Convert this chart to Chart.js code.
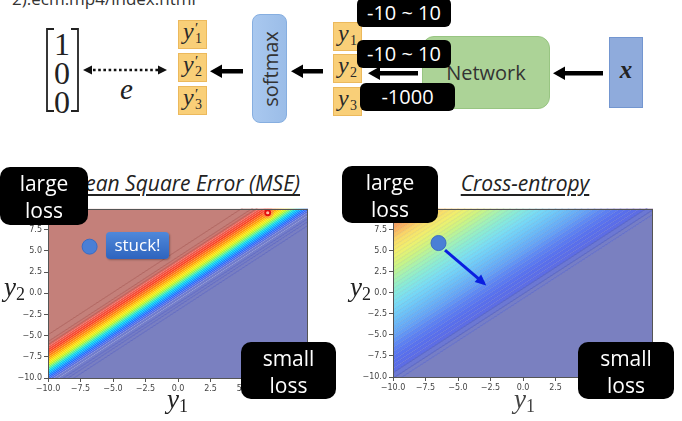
<!DOCTYPE html>
<html><head><meta charset="utf-8">
<script src="https://cdn.jsdelivr.net/npm/chart.js@4.4.1/dist/chart.umd.min.js"></script>
<style>
html,body{margin:0;padding:0;background:#fff;}
body{width:682px;height:421px;overflow:hidden;position:relative;font-family:"Open Sans",sans-serif;}
.abs{position:absolute;}
.ybox{position:absolute;background:#f9cf78;border:1px solid #ecb95c;box-sizing:border-box;width:29px;height:29px;z-index:2;}
.ybox .v{position:absolute;left:4px;top:-3px;font-family:"Liberation Serif",serif;font-style:italic;font-size:24px;color:#2a2a2a;}
.ybox .pr{position:absolute;left:16px;top:-1px;font-family:"Liberation Serif",serif;font-size:15px;color:#2a2a2a;}
.ybox .sb{position:absolute;left:16px;top:10px;font-family:"Liberation Serif",serif;font-size:14px;color:#2a2a2a;}
.blk{position:absolute;background:#000;color:#fff;border-radius:6px;text-align:center;font-size:20px;z-index:5;box-sizing:border-box;}
.big{position:absolute;background:#000;color:#fff;border-radius:10px;text-align:center;font-size:21px;line-height:27px;z-index:6;padding-top:3px;box-sizing:border-box;}
.mtx{position:absolute;font-family:"Liberation Serif",serif;font-size:32px;color:#222;line-height:29px;text-align:center;width:20px;}
.ttl{position:absolute;font-style:italic;font-size:21px;color:#222;text-decoration:underline;text-decoration-thickness:1.5px;text-underline-offset:3px;white-space:nowrap;z-index:3;line-height:26px;}
.axl{position:absolute;font-family:"Liberation Serif",serif;color:#222;z-index:4;white-space:nowrap;}
.axl i{font-size:27px;}
.axl sub{font-size:18px;vertical-align:-4px;}
canvas{position:absolute;z-index:1;}
</style></head>
<body>
<div class="abs" style="left:12px;top:-13px;font-size:17px;color:#333;white-space:nowrap;">2).ecm.mp4/index.html</div>

<!-- target vector -->
<div class="mtx" style="left:52px;top:30px;">1<br>0<br>0</div>
<svg class="abs" width="682" height="130" style="left:0;top:0;z-index:3;">
  <path d="M54,29 H47 V111 H54" fill="none" stroke="#222" stroke-width="1.8"/>
  <path d="M71,29 H78 V111 H71" fill="none" stroke="#222" stroke-width="1.8"/>
  <line x1="93" y1="70" x2="158" y2="70" stroke="#111" stroke-width="2.6" stroke-dasharray="2.6 2.6"/>
  <polygon points="83,70 92,65.5 92,74.5" fill="#111"/>
  <polygon points="167,70 158,65.5 158,74.5" fill="#111"/>
  <rect x="221" y="69" width="22" height="4.5" fill="#000"/>
  <polygon points="210,71.2 222,64.5 222,78" fill="#000"/>
  <rect x="302" y="69" width="21" height="4.5" fill="#000"/>
  <polygon points="291,71.2 303,64.5 303,78" fill="#000"/>
  <rect x="379" y="71" width="39" height="4.5" fill="#000"/>
  <polygon points="368,73.2 380,66.5 380,80" fill="#000"/>
  <rect x="564" y="71" width="39" height="4.5" fill="#000"/>
  <polygon points="553,73.2 565,66.5 565,80" fill="#000"/>
</svg>
<div class="abs" style="left:120px;top:73px;font-family:'Liberation Serif',serif;font-style:italic;font-size:29px;color:#222;">e</div>

<div class="ybox" style="left:178px;top:20px;"><span class="v">y</span><span class="pr">′</span><span class="sb">1</span></div>
<div class="ybox" style="left:178px;top:53px;"><span class="v">y</span><span class="pr">′</span><span class="sb">2</span></div>
<div class="ybox" style="left:178px;top:86px;"><span class="v">y</span><span class="pr">′</span><span class="sb">3</span></div>

<div class="abs" style="left:252px;top:14px;width:35px;height:109px;border-radius:8px;background:linear-gradient(90deg,#a9c8ef,#9bbde8);border:1px solid #86aee0;box-sizing:border-box;z-index:2;">
  <div class="abs" style="left:50%;top:50%;transform:translate(-50%,-50%) rotate(-90deg);font-size:20px;color:#333;white-space:nowrap;">softmax</div>
</div>

<div class="ybox" style="left:333px;top:22px;"><span class="v">y</span><span class="sb">1</span></div>
<div class="ybox" style="left:333px;top:54px;"><span class="v">y</span><span class="sb">2</span></div>
<div class="ybox" style="left:333px;top:87px;"><span class="v">y</span><span class="sb">3</span></div>

<div class="abs" style="left:422px;top:36px;width:128px;height:73px;border-radius:12px;background:#acd397;border:1px solid #98c582;box-sizing:border-box;z-index:2;">
  <div class="abs" style="left:0;width:100%;top:22px;text-align:center;font-size:20px;color:#333;">Network</div>
</div>
<div class="abs" style="left:609px;top:37px;width:34px;height:71px;background:#8fabdc;border:1px solid #7396d0;box-sizing:border-box;z-index:2;">
  <div class="abs" style="left:0;width:100%;top:18px;text-align:center;font-family:'Liberation Serif',serif;font-style:italic;font-weight:bold;font-size:25px;color:#222;">x</div>
</div>

<div class="blk" style="left:357px;top:-2px;width:94px;height:29px;line-height:29px;">-10 ~ 10</div>
<div class="blk" style="left:357px;top:40px;width:94px;height:28px;line-height:28px;">-10 ~ 10</div>
<div class="blk" style="left:360px;top:83px;width:95px;height:28px;line-height:28px;">-1000</div>

<!-- bottom titles and labels -->
<div class="ttl" style="right:382px;top:170px;">Mean Square Error (MSE)</div>
<div class="ttl" style="left:525px;top:170px;transform:translateX(-50%);">Cross-entropy</div>

<div class="big" style="left:0;top:167px;width:88px;height:58px;">large<br>loss</div>
<div class="big" style="left:342px;top:166px;width:96px;height:57px;">large<br>loss</div>
<div class="big" style="left:241px;top:342px;width:95px;height:57px;">small<br>loss</div>
<div class="big" style="left:578px;top:342px;width:96px;height:57px;">small<br>loss</div>

<div class="abs" style="left:106px;top:232px;width:63px;height:27px;border-radius:4px;background:linear-gradient(#4f88da,#2e64be);color:#fff;font-size:17px;line-height:26px;text-align:center;z-index:4;box-shadow:1px 1px 2px rgba(0,0,0,0.3);">stuck!</div>

<div class="axl" style="left:4px;top:272px;"><i>y</i><sub>2</sub></div>
<div class="axl" style="left:350px;top:272px;"><i>y</i><sub>2</sub></div>
<div class="axl" style="left:167px;top:384px;"><i>y</i><sub>1</sub></div>
<div class="axl" style="left:514px;top:384px;color:#444;"><i>y</i><sub>1</sub></div>

<canvas id="mse" width="320" height="200" style="left:0;top:200px;"></canvas>
<canvas id="ce" width="320" height="200" style="left:345px;top:200px;"></canvas>

<script>
// ---------- data ----------
const axisTicks = [-10, -7.5, -5, -2.5, 0, 2.5, 5, 7.5, 10];
// contour levels: offsets d of lines y2 = y1 + d
const mseLevels = [-2.0, -1.55, -1.2, -0.8, -0.45, -0.2, 0.0, 0.2, 0.4, 0.6, 0.8, 1.0, 1.2, 1.4, 1.6, 1.8, 2.0, 2.2, 2.45, 2.7, 2.95, 3.2, 3.45, 3.7, 3.95, 4.3, 5.1];
const mseLines = [-2.0, -1.55, -1.2, 3.95, 4.3, 5.1];
const ceLevels = [-0.7, -0.15, 0.5, 1.0, 1.5, 2.0, 2.5, 3.0, 3.5, 4.0, 4.5, 5.0, 5.5, 6.0, 6.5, 7.0, 7.5, 8.0, 8.5, 9.0, 9.5, 10.0, 10.5, 11.0, 11.5, 12.0, 12.5, 13.0, 13.5, 14.0, 14.5, 15.0, 15.5, 16.0, 16.5, 17.0, 17.5, 18.0, 18.5, 19.0, 19.5];
const ceLines = [-0.7, -0.15, 0.5];
const mseDot = [{x: -6.8, y: 5.5}];
const mseRedMark = [{x: 6.9, y: 9.5}];
const ceDot = [{x: -6.5, y: 5.9}];
const ceArrow = [{x: -6.0, y: 5.05}, {x: -3.0, y: 1.1}];

// ---------- styles (colour maps) ----------
const mseStops = [[-2.0,[122,128,192]],[-0.5,[112,124,205]],[-0.2,[70,100,235]],[0.1,[30,110,255]],[0.45,[0,165,255]],[0.8,[0,215,240]],[1.1,[80,240,150]],[1.45,[180,245,40]],[1.8,[250,235,10]],[2.2,[255,180,0]],[2.65,[255,120,20]],[3.1,[250,65,35]],[3.5,[242,80,65]],[3.8,[225,105,95]],[4.05,[205,120,112]],[4.35,[196,128,122]]];
const ceStops = [[-1,[122,128,192]],[-0.4,[118,126,198]],[0.2,[108,120,212]],[0.8,[92,108,230]],[2,[88,112,238]],[3.5,[94,132,243]],[5,[102,165,246]],[7,[110,198,248]],[8.5,[120,220,245]],[10,[135,234,218]],[11.5,[165,242,178]],[13,[205,244,130]],[14.5,[240,240,110]],[16,[250,220,105]],[17.5,[248,170,96]],[19,[242,130,88]],[20,[238,108,84]]];

function colorAt(stops, d){
  if (d <= stops[0][0]) return stops[0][1];
  for (let i = 1; i < stops.length; i++){
    if (d <= stops[i][0]){
      const [d0,c0] = stops[i-1], [d1,c1] = stops[i];
      const t = (d - d0) / (d1 - d0);
      return c0.map((v,k)=>Math.round(v + (c1[k]-v)*t));
    }
  }
  return stops[stops.length-1][1];
}
const rgba = (c,a=1)=>`rgba(${c[0]},${c[1]},${c[2]},${a})`;
const lineThrough = d => [{x:-10, y:-10 + d}, {x:10, y:10 + d}];

function bandSets(levels, stops, hatch){
  const sets = [];
  const base = colorAt(stops, levels[0] - 1);
  sets.push({data: lineThrough(levels[0]), fill:'start', backgroundColor: rgba(base), borderWidth:0, pointRadius:0, order:5});
  for (let i = 1; i < levels.length; i++){
    const c = colorAt(stops, (levels[i-1] + levels[i]) / 2);
    sets.push({data: lineThrough(levels[i]), fill:'-1', backgroundColor: rgba(c),
      borderWidth: hatch ? 0.7 : 0, borderColor: rgba(c.map(v=>Math.round(v*0.8)), 0.5), pointRadius:0, order:5});
  }
  const top = colorAt(stops, levels[levels.length-1] + 1);
  sets.push({data: lineThrough(levels[levels.length-1]), fill:'end', backgroundColor: rgba(top), borderWidth:0, pointRadius:0, order:5});
  return sets;
}
function contourSets(lines, colorFn){
  return lines.map(d => ({data: lineThrough(d), fill:false, borderColor: colorFn(d), borderWidth:0.8, pointRadius:0, order:4}));
}

const framePlugin = {id:'frame', afterDatasetsDraw(chart){
  const a = chart.chartArea, ctx = chart.ctx;
  ctx.save(); ctx.strokeStyle = '#555'; ctx.lineWidth = 1;
  ctx.strokeRect(Math.round(a.left)+0.5, Math.round(a.top)+0.5, Math.round(a.right-a.left)-1, Math.round(a.bottom-a.top)-1);
  ctx.restore();
}};
const arrowPlugin = {id:'arrowHead', afterDatasetsDraw(chart){
  const ctx = chart.ctx;
  chart.data.datasets.forEach((ds,i)=>{
    if (!ds.arrowHead) return;
    const pts = chart.getDatasetMeta(i).data;
    const a = pts[pts.length-2], b = pts[pts.length-1];
    const ang = Math.atan2(b.y-a.y, b.x-a.x);
    ctx.save(); ctx.fillStyle = ds.borderColor; ctx.translate(b.x, b.y); ctx.rotate(ang);
    ctx.beginPath(); ctx.moveTo(3,0); ctx.lineTo(-8,-5); ctx.lineTo(-8,5); ctx.closePath(); ctx.fill();
    ctx.restore();
  });
}};

const fmt = v => (v < 0 ? '\u2212' : '') + Math.abs(v).toFixed(1);
function axes(padTop, xH){
  const common = {
    type:'linear', min:-10, max:10,
    afterBuildTicks: s => { s.ticks = axisTicks.map(v => ({value:v})); },
    grid:{display:true, drawOnChartArea:false, drawTicks:true, tickLength:4, color:'#555'},
    border:{display:false},
    ticks:{font:{family:'DejaVu Sans', size:8}, color:'#444', padding:2, callback: fmt, autoSkip:false, maxRotation:0}
  };
  return {
    x: Object.assign({}, common, {afterFit: s => { s.height = xH; }}),
    y: Object.assign({}, common, {afterFit: s => { s.width = 48; }})
  };
}
function makeChart(id, datasets, padTop, xH){
  return new Chart(document.getElementById(id), {
    type:'line',
    data:{datasets},
    options:{
      responsive:false, animation:false, devicePixelRatio:1,
      layout:{padding:{top:padTop, right:12, left:0, bottom:0}},
      plugins:{legend:{display:false}, tooltip:{enabled:false}},
      scales: axes(padTop, xH),
      elements:{line:{tension:0}}
    },
    plugins:[framePlugin, arrowPlugin]
  });
}

const mseSets = bandSets(mseLevels, mseStops, false)
  .concat(contourSets(mseLines, d => d < 0 ? 'rgba(70,80,185,0.8)' : 'rgba(155,65,60,0.75)'))
  .concat([
    {data: mseRedMark, showLine:false, pointRadius:6, pointBackgroundColor:'rgba(255,110,110,0.35)', pointBorderWidth:0, order:1},
    {data: mseRedMark, showLine:false, pointRadius:2.5, pointBackgroundColor:'rgba(255,230,230,0.6)', pointBorderColor:'#e01010', pointBorderWidth:1.8, order:0},
    {data: mseDot, showLine:false, pointRadius:7.5, pointBackgroundColor:'#4a7fd6', pointBorderColor:'#3a6cc4', pointBorderWidth:1, order:0}
  ]);
makeChart('mse', mseSets, 8, 22);

const ceSets = bandSets(ceLevels, ceStops, true)
  .concat(contourSets(ceLines, d => 'rgba(70,85,200,0.8)'))
  .concat([
    {data: ceArrow, fill:false, borderColor:'#0a1ee0', borderWidth:3, pointRadius:0, arrowHead:true, order:1},
    {data: ceDot, showLine:false, pointRadius:7.5, pointBackgroundColor:'#4a7fd6', pointBorderColor:'#3a6cc4', pointBorderWidth:1, order:0}
  ]);
makeChart('ce', ceSets, 7, 23);
</script>
</body></html>
